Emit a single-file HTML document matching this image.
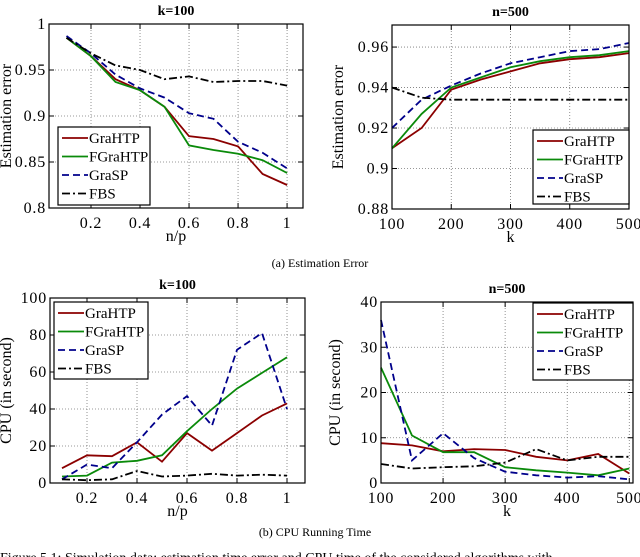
<!DOCTYPE html>
<html><head><meta charset="utf-8"><style>
body{margin:0;background:#fff;width:640px;height:557px;overflow:hidden}
svg{display:block;font-family:"Liberation Serif",serif}
</style></head><body>
<svg id="fig" width="640" height="557" viewBox="0 0 640 557" xmlns="http://www.w3.org/2000/svg"></svg>
<script>
// ---- data ----
const xNP = [0.1,0.2,0.3,0.4,0.5,0.6,0.7,0.8,0.9,1.0];
const xK = [100,150,200,250,300,350,400,450,500];
const errNP_GraHTP = [0.985,0.965,0.940,0.928,0.910,0.878,0.875,0.867,0.837,0.825];
const errNP_FGraHTP = [0.985,0.965,0.937,0.928,0.910,0.868,0.863,0.859,0.852,0.838];
const errNP_GraSP = [0.987,0.968,0.945,0.930,0.920,0.903,0.897,0.872,0.860,0.843];
const errNP_FBS = [0.985,0.968,0.955,0.950,0.940,0.943,0.937,0.938,0.938,0.933];
const errK_GraHTP = [0.910,0.920,0.939,0.944,0.948,0.952,0.954,0.955,0.957];
const errK_FGraHTP = [0.910,0.927,0.940,0.945,0.950,0.953,0.955,0.956,0.958];
const errK_GraSP = [0.920,0.934,0.941,0.947,0.952,0.955,0.958,0.959,0.962];
const errK_FBS = [0.940,0.935,0.934,0.934,0.934,0.934,0.934,0.934,0.934];
const cpuNP_GraHTP = [8,15,14.5,22,11.5,27,17.5,27,36.5,43];
const cpuNP_FGraHTP = [3.5,4,11,12,15,28,40,51,59.5,68];
const cpuNP_GraSP = [2,10,8,22,37,47,31,72,81,40];
const cpuNP_FBS = [2,1.5,2,6.5,3.5,4,5,4,4.5,4];
const cpuK_GraHTP = [8.8,8.3,7,7.5,7.3,5.8,5,6.4,2.1];
const cpuK_FGraHTP = [25.5,10.5,6.8,6.8,3.5,2.8,2.3,1.7,3.2];
const cpuK_GraSP = [36,5,11,5.5,2.5,1.7,1.2,1.5,0.8];
const cpuK_FBS = [4.2,3.2,3.5,3.7,4.5,7.5,5,5.8,5.8];
const npTicks = [0.2,0.4,0.6,0.8,1];
const npTickLabels = ["0.2","0.4","0.6","0.8","1"];
const kTicks = [100,200,300,400,500];
const kTickLabels = ["100","200","300","400","500"];
const errNPTicks = [0.8,0.85,0.9,0.95,1];
const errNPTickLabels = ["0.8","0.85","0.9","0.95","1"];
const errKTicks = [0.88,0.9,0.92,0.94,0.96];
const errKTickLabels = ["0.88","0.9","0.92","0.94","0.96"];
const cpuNPTicks = [0,20,40,60,80,100];
const cpuNPTickLabels = ["0","20","40","60","80","100"];
const cpuKTicks = [0,10,20,30,40];
const cpuKTickLabels = ["0","10","20","30","40"];
const seriesNames = ["GraHTP","FGraHTP","GraSP","FBS"];

const NS="http://www.w3.org/2000/svg";
const svg=document.getElementById('fig');
function el(tag,attrs,parent){const e=document.createElementNS(NS,tag);for(const k in attrs)e.setAttribute(k,attrs[k]);(parent||svg).appendChild(e);return e;}
const styles=[
 {stroke:"#8b0000",dash:""},
 {stroke:"#0a8a0a",dash:""},
 {stroke:"#00008b",dash:"7,4"},
 {stroke:"#000",dash:"8,3,2,3"}];

function panel(cfg){
 const g=el('g',{});
 
 
 const {L,R,T,B,x0,x1,y0,y1}=cfg;
 const sx=v=>L+(v-x0)/(x1-x0)*(R-L);
 const sy=v=>B-(v-y0)/(y1-y0)*(B-T);
 cfg.xt.forEach((v,i)=>{const x=sx(v);
  const gl=el('line',{x1:x,x2:x,y1:T,y2:B,stroke:"#777","stroke-width":0.8,"stroke-dasharray":"1,2"},g);
  
  el('line',{x1:x,x2:x,y1:B,y2:B-5,stroke:"#000"},g);el('line',{x1:x,x2:x,y1:T,y2:T+5,stroke:"#000"},g);
  const t=el('text',{x:x,y:B+20,"font-size":16,"letter-spacing":0.8,"text-anchor":"middle"},g);t.textContent=cfg.xl[i];
  });
 cfg.yt.forEach((v,i)=>{const y=sy(v);
  const gl=el('line',{x1:L,x2:R,y1:y,y2:y,stroke:"#777","stroke-width":0.8,"stroke-dasharray":"1,2"},g);
  
  el('line',{x1:L,x2:L+5,y1:y,y2:y,stroke:"#000"},g);el('line',{x1:R,x2:R-5,y1:y,y2:y,stroke:"#000"},g);
  const t=el('text',{x:L-3,y:y+5,"font-size":16,"letter-spacing":0.8,"text-anchor":"end"},g);t.textContent=cfg.yl[i];
  });
 cfg.series.forEach((ys,si)=>{
  const pts=ys.map((v,i)=>sx(cfg.xs[i]).toFixed(1)+","+sy(v).toFixed(1)).join(" ");
  const p=el('polyline',{points:pts,fill:"none",stroke:styles[si].stroke,"stroke-width":1.8,"stroke-dasharray":styles[si].dash},g);
  
  });
 const fr=el('rect',{x:L,y:T,width:R-L,height:B-T,fill:"none",stroke:"#000","stroke-width":1.2},g);
 
 const tt=el('text',{x:(L+R)/2,y:T-9,"font-size":14,"font-weight":"bold","text-anchor":"middle"},g);tt.textContent=cfg.title;
 
 const xt=el('text',{x:(L+R)/2,y:B+33,"font-size":16,"text-anchor":"middle"},g);xt.textContent=cfg.xlabel;
 
 const yx=cfg.ylx;
 const yt=el('text',{x:yx,y:(T+B)/2,"font-size":16,"text-anchor":"middle",transform:`rotate(-90 ${yx} ${(T+B)/2})`},g);yt.textContent=cfg.ylabel;
 
 const [lx,ly,lw,lh]=cfg.leg;
 const lg=el('g',{},g);
 el('rect',{x:lx,y:ly,width:lw,height:lh,fill:"#fff",stroke:"#000","stroke-width":1.2},lg);
 seriesNames.forEach((n,i)=>{const yy=ly+11+i*18.5;
  const e=el('g',{},lg);
  el('line',{x1:lx+4,x2:lx+30,y1:yy,y2:yy,stroke:styles[i].stroke,"stroke-width":1.8,"stroke-dasharray":styles[i].dash},e);
  const t=el('text',{x:lx+31,y:yy+5,"font-size":15},e);t.textContent=n;});
}
panel({name:'error-vs-np',L:49,R:303,T:24,B:208,x0:0.0286,x1:1.065,y0:0.8,y1:1,xs:xNP,
 series:[errNP_GraHTP,errNP_FGraHTP,errNP_GraSP,errNP_FBS],xt:npTicks,xl:npTickLabels,yt:errNPTicks,yl:errNPTickLabels,
 title:'k=100',xlabel:'n/p',ylabel:'Estimation error',ylx:11,leg:[58,127,92,78]});
panel({name:'error-vs-k',L:392,R:629,T:25,B:209,x0:100,x1:500,y0:0.88,y1:0.9709,xs:xK,
 series:[errK_GraHTP,errK_FGraHTP,errK_GraSP,errK_FBS],xt:kTicks,xl:kTickLabels,yt:errKTicks,yl:errKTickLabels,
 title:'n=500',xlabel:'k',ylabel:'Estimation error',ylx:343,leg:[533,130,96,74]});
panel({name:'cpu-vs-np',L:50,R:305,T:298,B:483,x0:0.052,x1:1.072,y0:0,y1:100,xs:xNP,
 series:[cpuNP_GraHTP,cpuNP_FGraHTP,cpuNP_GraSP,cpuNP_FBS],xt:npTicks,xl:npTickLabels,yt:cpuNPTicks,yl:cpuNPTickLabels,
 title:'k=100',xlabel:'n/p',ylabel:'CPU (in second)',ylx:11,leg:[54,302,94,77]});
panel({name:'cpu-vs-k',L:381,R:633,T:302,B:483,x0:100,x1:506,y0:0,y1:40,xs:xK,
 series:[cpuK_GraHTP,cpuK_FGraHTP,cpuK_GraSP,cpuK_FBS],xt:kTicks,xl:kTickLabels,yt:cpuKTicks,yl:cpuKTickLabels,
 title:'n=500',xlabel:'k',ylabel:'CPU (in second)',ylx:340,leg:[533,303,100,77]});
const c1=el('text',{x:320,y:267,"font-size":12,"text-anchor":"middle"});c1.textContent='(a) Estimation Error';

const c2=el('text',{x:315,y:536,"font-size":12,"text-anchor":"middle"});c2.textContent='(b) CPU Running Time';

const c3=el('text',{x:0,y:562,"font-size":14});c3.textContent='Figure 5.1: Simulation data: estimation time error and CPU time of the considered algorithms with';

</script>
</body></html>
